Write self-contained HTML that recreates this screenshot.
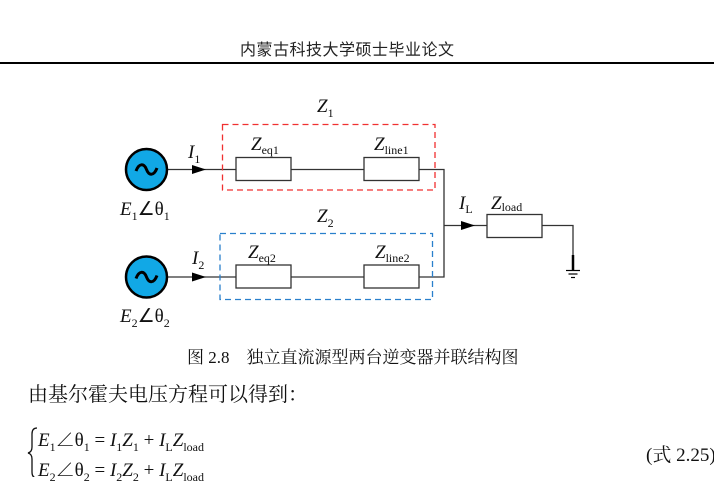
<!DOCTYPE html>
<html><head><meta charset="utf-8"><style>
body{margin:0;background:#fff;width:714px;height:477px;overflow:hidden;position:relative;font-family:"Liberation Serif","Noto Serif CJK SC",serif;}
.t{position:absolute;white-space:nowrap;color:#111;}
sub{font-size:12px;}
</style></head><body>
<div class="t" style="left:240px;top:36px;font-size:16px;font-family:'Noto Sans CJK SC',sans-serif;color:#222;letter-spacing:0.5px">内蒙古科技大学硕士毕业论文</div>
<div style="position:absolute;left:0;top:62px;width:714px;height:2px;background:#000"></div>
<svg width="714" height="477" style="position:absolute;left:0;top:0" font-family="Liberation Serif, serif">
<g stroke="#333" stroke-width="1.3" fill="none">
<line x1="168" y1="169.5" x2="236" y2="169.5"/>
<line x1="291" y1="169.5" x2="364" y2="169.5"/>
<polyline points="419,169.5 444,169.5 444,277 419,277"/>
<line x1="168" y1="277" x2="236" y2="277"/>
<line x1="291" y1="277" x2="364" y2="277"/>
<line x1="444" y1="225.5" x2="487" y2="225.5"/>
<polyline points="542,225.5 573,225.5 573,270"/>
</g>
<line x1="573" y1="255" x2="573" y2="270" stroke="#000" stroke-width="2.5"/>
<g stroke="#000" stroke-width="1.2">
<line x1="566" y1="270.5" x2="580" y2="270.5"/>
<line x1="568.5" y1="274" x2="577.5" y2="274"/>
<line x1="571" y1="277.5" x2="575" y2="277.5"/>
</g>
<g fill="#000">
<polygon points="192,165 206,169.5 192,174"/>
<polygon points="192,272.5 206,277 192,281.5"/>
<polygon points="461,221 475,225.5 461,230"/>
</g>
<g fill="#fff" stroke="#333" stroke-width="1.3">
<rect x="236" y="157.5" width="55" height="23"/>
<rect x="364" y="157.5" width="55" height="23"/>
<rect x="236" y="265" width="55" height="23"/>
<rect x="364" y="265" width="55" height="23"/>
<rect x="487" y="214.5" width="55" height="23"/>
</g>
<rect x="222.5" y="124.5" width="212.5" height="65.5" fill="none" stroke="#f03030" stroke-width="1.3" stroke-dasharray="6,4"/>
<rect x="220" y="233.5" width="212.5" height="66" fill="none" stroke="#2a80cc" stroke-width="1.3" stroke-dasharray="6,4"/>
<g fill="#11a8e6" stroke="#000" stroke-width="2.5">
<circle cx="146.5" cy="169.5" r="20.5"/>
<circle cx="146.5" cy="277" r="20.5"/>
</g>
<g fill="none" stroke="#000" stroke-width="3">
<path d="M136,171 C139,163 144,163 146.5,169.5 C149,176 154,176 157,168"/>
<path d="M136,278.5 C139,270.5 144,270.5 146.5,277 C149,283.5 154,283.5 157,275.5"/>
</g>
<g font-size="19" font-style="italic" fill="#111">
<text x="317" y="112">Z<tspan font-size="12" font-style="normal" dy="5">1</tspan></text>
<text x="317" y="222">Z<tspan font-size="12" font-style="normal" dy="5">2</tspan></text>
<text x="251" y="150">Z<tspan font-size="12" font-style="normal" dy="4">eq1</tspan></text>
<text x="374" y="150">Z<tspan font-size="12" font-style="normal" dy="4">line1</tspan></text>
<text x="248" y="258">Z<tspan font-size="12" font-style="normal" dy="4">eq2</tspan></text>
<text x="375" y="258">Z<tspan font-size="12" font-style="normal" dy="4">line2</tspan></text>
<text x="188" y="158">I<tspan font-size="12" font-style="normal" dy="5">1</tspan></text>
<text x="192" y="264">I<tspan font-size="12" font-style="normal" dy="5">2</tspan></text>
<text x="459" y="209">I<tspan font-size="12" font-style="normal" dy="4">L</tspan></text>
<text x="491" y="209">Z<tspan font-size="12" font-style="normal" dy="2">load</tspan></text>
<text x="120" y="215">E<tspan font-size="12" font-style="normal" dy="5">1</tspan><tspan dy="-5" font-style="normal">∠θ</tspan><tspan font-size="12" font-style="normal" dy="5">1</tspan></text>
<text x="120" y="322">E<tspan font-size="12" font-style="normal" dy="5">2</tspan><tspan dy="-5" font-style="normal">∠θ</tspan><tspan font-size="12" font-style="normal" dy="5">2</tspan></text>
</g>
<path d="M37,428 Q32,428 32,434 L32,447 Q32,452 28,453 Q32,454 32,459 L32,472 Q32,478 37,478" fill="none" stroke="#111" stroke-width="1.3"/>
</svg>
<div class="t" style="left:187px;top:343px;font-size:17px">图 2.8　独立直流源型两台逆变器并联结构图</div>
<div class="t" style="left:28px;top:378px;font-size:20px">由基尔霍夫电压方程可以得到：</div>
<div class="t" style="left:38px;top:425px;font-size:19px"><i>E</i><sub>1</sub>∠θ<sub>1</sub> = <i>I</i><sub>1</sub><i>Z</i><sub>1</sub> + <i>I</i><sub>L</sub><i>Z</i><sub>load</sub></div>
<div class="t" style="left:38px;top:455px;font-size:19px"><i>E</i><sub>2</sub>∠θ<sub>2</sub> = <i>I</i><sub>2</sub><i>Z</i><sub>2</sub> + <i>I</i><sub>L</sub><i>Z</i><sub>load</sub></div>
<div class="t" style="left:646px;top:440px;font-size:19px">(式 2.25)</div>
</body></html>
